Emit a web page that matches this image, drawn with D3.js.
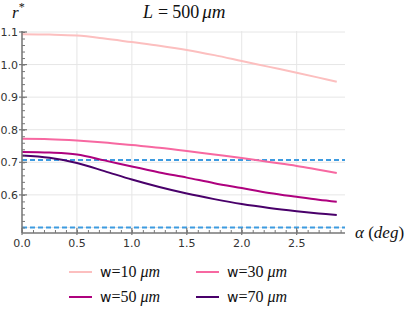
<!DOCTYPE html>
<html>
<head>
<meta charset="utf-8">
<script src="https://cdn.jsdelivr.net/npm/d3@7"></script>
<style>
  body { margin: 0; background: #fff; }
  svg { display: block; }
</style>
</head>
<body>
<svg id="chart" width="415" height="321"></svg>
<script>
// data
const alpha = [0, 0.25, 0.5, 0.75, 1.0, 1.25, 1.5, 1.75, 2.0, 2.25, 2.5, 2.7, 2.865];
const w10 = [1.093, 1.092, 1.089, 1.080, 1.069, 1.058, 1.045, 1.029, 1.011, 0.993, 0.975, 0.960, 0.947];
const w30 = [0.772, 0.771, 0.767, 0.761, 0.753, 0.745, 0.735, 0.724, 0.713, 0.701, 0.689, 0.677, 0.667];
const w50 = [0.732, 0.730, 0.724, 0.706, 0.687, 0.669, 0.653, 0.636, 0.621, 0.606, 0.594, 0.585, 0.579];
const w70 = [0.721, 0.714, 0.698, 0.673, 0.647, 0.624, 0.604, 0.587, 0.572, 0.560, 0.550, 0.543, 0.538];
const seriesNames = ["10", "30", "50", "70"];
const seriesColors = ["#fcbfbf", "#f768a1", "#ae017e", "#49006a"];
const refLines = [Math.SQRT1_2, 0.5];
const yTicks = [0.6, 0.7, 0.8, 0.9, 1.0, 1.1];
const xTicks = [0, 0.5, 1.0, 1.5, 2.0, 2.5];

const series = [w10, w30, w50, w70].map((vals, i) => ({
  name: seriesNames[i], color: seriesColors[i],
  pts: vals.map((v, j) => [alpha[j], v])
}));

const svg = d3.select("#chart");
const serif = "'Liberation Serif', 'DejaVu Serif', serif";
const sans = "'DejaVu Sans', 'Liberation Sans', sans-serif";

const x = d3.scaleLinear().domain([0, 2.94]).range([22, 345]);
const y = d3.scaleLinear().domain([0.483, 1.1]).range([233, 32]);

// grid
svg.append("g").selectAll("line").data(xTicks).join("line")
  .attr("x1", d => x(d)).attr("x2", d => x(d))
  .attr("y1", y.range()[1] - 1).attr("y2", y.range()[0])
  .attr("stroke", "#e6e6e6").attr("stroke-width", 1);
svg.append("g").selectAll("line").data(yTicks.concat([0.5])).join("line")
  .attr("x1", x(0)).attr("x2", x.range()[1])
  .attr("y1", d => y(d)).attr("y2", d => y(d))
  .attr("stroke", "#e6e6e6").attr("stroke-width", 1);

// dashed reference lines
svg.append("g").selectAll("line").data(refLines).join("line")
  .attr("x1", x(0)).attr("x2", x.range()[1])
  .attr("y1", d => y(d)).attr("y2", d => y(d))
  .attr("stroke", "#3d9be0").attr("stroke-width", 2)
  .attr("stroke-dasharray", "5,3");

// curves
const line = d3.line().x(d => x(d[0])).y(d => y(d[1])).curve(d3.curveCatmullRom);
svg.append("g").selectAll("path").data(series).join("path")
  .attr("d", d => line(d.pts))
  .attr("fill", "none")
  .attr("stroke", d => d.color)
  .attr("stroke-width", 2);

// axes
const axisColor = "#777";
const xAxis = svg.append("g").attr("transform", `translate(0,${y.range()[0]})`)
  .call(d3.axisBottom(x).tickValues(d3.range(0, 2.95, 0.1)).tickSize(-3).tickFormat(""));
const yAxis = svg.append("g").attr("transform", `translate(${x(0)},0)`)
  .call(d3.axisLeft(y).tickValues(d3.range(0.5, 1.101, 0.02)).tickSize(-3).tickFormat(""));
[xAxis, yAxis].forEach(g => {
  g.select(".domain").attr("stroke", axisColor).attr("stroke-width", 1.5);
  g.selectAll(".tick line").attr("stroke", axisColor);
});
xAxis.select(".domain").attr("d", `M${x.range()[0]},0H${x.range()[1]}`);
yAxis.select(".domain").attr("d", `M0,${y.range()[0]}V${y.range()[1] - 1}`);

// major ticks crossing the axes
svg.append("g").selectAll("line").data(yTicks).join("line")
  .attr("x1", x(0) - 3).attr("x2", x(0) + 5)
  .attr("y1", d => y(d)).attr("y2", d => y(d))
  .attr("stroke", axisColor).attr("stroke-width", 1.2);
svg.append("g").selectAll("line").data(xTicks).join("line")
  .attr("x1", d => x(d)).attr("x2", d => x(d))
  .attr("y1", y.range()[0] + 2).attr("y2", y.range()[0] - 5)
  .attr("stroke", axisColor).attr("stroke-width", 1.2);

// tick labels
svg.append("g").selectAll("text").data(yTicks).join("text")
  .attr("x", 18).attr("y", d => y(d) + 4)
  .attr("text-anchor", "end")
  .attr("font-family", sans).attr("font-size", 11).attr("fill", "#333")
  .text(d => d3.format(".1f")(d));
svg.append("g").selectAll("text").data(xTicks).join("text")
  .attr("x", d => x(d)).attr("y", 247)
  .attr("text-anchor", "middle")
  .attr("font-family", sans).attr("font-size", 11).attr("fill", "#333")
  .text(d => d3.format(".1f")(d));

// titles
const title = svg.append("text").attr("x", 143).attr("y", 18)
  .attr("font-family", serif).attr("font-size", 18).attr("fill", "#111");
title.append("tspan").attr("font-style", "italic").text("L");
title.append("tspan").attr("dx", 5).text("=");
title.append("tspan").attr("dx", 4).text("500");
title.append("tspan").attr("dx", 3).attr("font-style", "italic").attr("font-size", 19).text("μm");

const ylab = svg.append("text").attr("x", 12).attr("y", 18)
  .attr("font-family", serif).attr("font-size", 17).attr("fill", "#111");
ylab.append("tspan").attr("font-style", "italic").text("r");
ylab.append("tspan").attr("font-size", 12).attr("dy", -7).text("*");

const xlab = svg.append("text").attr("x", 355).attr("y", 238)
  .attr("font-family", serif).attr("font-size", 17).attr("fill", "#111");
xlab.append("tspan").attr("font-style", "italic").text("α");
xlab.append("tspan").text(" (");
xlab.append("tspan").attr("font-style", "italic").text("deg");
xlab.append("tspan").text(")");

// legend
const legend = svg.append("g").selectAll("g").data(series).join("g")
  .attr("transform", (d, i) => `translate(${i % 2 ? 196 : 69},${i < 2 ? 272 : 297})`);
legend.append("line").attr("x1", 0).attr("x2", 23)
  .attr("stroke", d => d.color).attr("stroke-width", 2);
const lt = legend.append("text").attr("x", 31).attr("y", 5)
  .attr("font-size", 16).attr("fill", "#111");
lt.append("tspan").attr("font-family", sans).attr("font-size", 14).text("w");
lt.append("tspan").attr("font-family", serif).text(d => "=" + d.name + " ");
lt.append("tspan").attr("font-family", serif).attr("font-style", "italic").text("μm");
</script>
</body>
</html>
